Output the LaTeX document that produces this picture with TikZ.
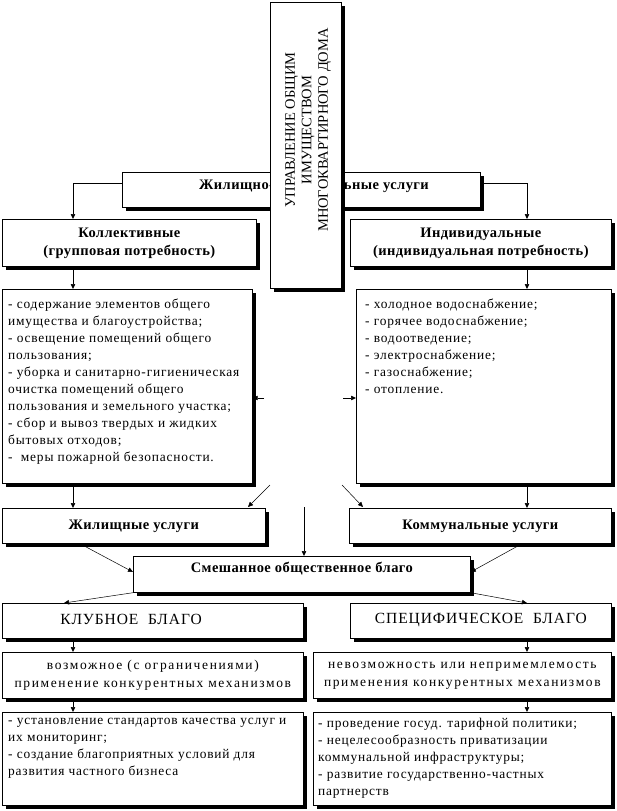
\documentclass[tikz,border=0pt]{standalone}
\usepackage{fontspec}
\setmainfont{Liberation Serif}
\newfontfamily\lsfont[LetterSpace=6]{Liberation Serif}
\newfontfamily\wdfont[LetterSpace=12]{Liberation Serif}
\newfontfamily\hdfont[LetterSpace=3]{Liberation Serif}
\usetikzlibrary{arrows.meta,shadows}
\begin{document}
\begin{tikzpicture}[x=1pt,y=-1pt,
  bx/.style={draw, fill=white, line width=0.7pt, inner sep=0pt, anchor=north west,
    drop shadow={shadow xshift=3.5pt,shadow yshift=-3.5pt,fill=black,opacity=1}},
  arr/.style={-{Triangle[length=5pt,width=4.5pt]}, line width=0.5pt},
  hd/.style={font=\hdfont\fontsize{14.5}{18}\selectfont\bfseries, align=center, inner sep=0pt},
  rg/.style={font=\wdfont\fontsize{13.5}{18}\selectfont, align=center, inner sep=0pt},
  captxt/.style={font=\lsfont\fontsize{15.5}{18}\selectfont, align=center, inner sep=0pt},
  lst/.style={font=\lsfont\fontsize{13.4}{17}\selectfont, align=left, anchor=north west, inner sep=0pt}
]
\useasboundingbox (0,0) rectangle (616,811);
% top
\node[bx, minimum width=358pt, minimum height=35pt] (zhk) at (122,172) {};
\node[hd] (zhkt) at (314,186.5) {Жилищно-коммунальные услуги};
\node[bx, minimum width=71pt, minimum height=286pt] (upr) at (270,2) {};
\node[rotate=90, align=center, inner sep=0pt, font=\fontsize{14.5}{16.5}\selectfont] (uprt) at (308,130) {УПРАВЛЕНИЕ ОБЩИМ\\ИМУЩЕСТВОМ\\МНОГОКВАРТИРНОГО ДОМА};
% level 2
\node[bx, minimum width=254pt, minimum height=47pt] (kol) at (2,219) {};
\node[hd] (kolt) at (kol.center) {Коллективные\\(групповая потребность)};
\node[bx, minimum width=261pt, minimum height=47pt] (ind) at (350,219) {};
\node[hd] (indt) at (ind.center) {Индивидуальные\\(индивидуальная потребность)};
% lists
\node[bx, minimum width=250pt, minimum height=194pt] (lstL) at (2,289) {};
\node[lst] (lstLt) at (8,299) {- содержание элементов общего\\имущества и благоустройства;\\- освещение помещений общего\\пользования;\\- уборка и санитарно-гигиеническая\\очистка помещений общего\\пользования и земельного участка;\\- сбор и вывоз твердых и жидких\\бытовых отходов;\\-\ \ меры пожарной безопасности.};
\node[bx, minimum width=255pt, minimum height=194pt] (lstR) at (356,289) {};
\node[lst] (lstRt) at (365,299) {- холодное водоснабжение;\\- горячее водоснабжение;\\- водоотведение;\\- электроснабжение;\\- газоснабжение;\\- отопление.};
% level 4
\node[bx, minimum width=263pt, minimum height=35pt] (zhu) at (2,508) {};
\node[hd] (zhut) at (zhu.center) {Жилищные услуги};
\node[bx, minimum width=262pt, minimum height=35pt] (komu) at (349,508) {};
\node[hd] (komut) at (komu.center) {Коммунальные услуги};
% mixed
\node[bx, minimum width=337pt, minimum height=36pt] (smesh) at (133,556) {};
\node[hd] (smesht) at ([yshift=6pt]smesh.center) {Смешанное общественное благо};
% goods
\node[bx, minimum width=301pt, minimum height=35pt] (klub) at (2,603) {};
\node[captxt] (klubt) at (131,619) {КЛУБНОЕ\ \ БЛАГО};
\node[bx, minimum width=261pt, minimum height=35pt] (spec) at (350,603) {};
\node[captxt] (spect) at ([yshift=1pt]spec.center) {СПЕЦИФИЧЕСКОЕ\ \ БЛАГО};
\node[bx, minimum width=301pt, minimum height=46pt] (voz) at (2,652) {};
\node[rg] (vozt) at (voz.center) {возможное (с ограничениями)\\применение конкурентных механизмов};
\node[bx, minimum width=298pt, minimum height=46pt] (nevoz) at (313,652) {};
\node[rg] (nevozt) at (nevoz.center) {невозможность или непримемлемость\\применения конкурентных механизмов};
\node[bx, minimum width=301pt, minimum height=93pt] (bL) at (2,712) {};
\node[lst] (bLt) at (8,718) {- установление стандартов качества услуг и\\их мониторинг;\\- создание благоприятных условий для\\развития частного бизнеса};
\node[bx, minimum width=298pt, minimum height=93pt] (bR) at (313,712) {};
\node[lst] (bRt) at (318,718) {- проведение госуд. тарифной политики;\\- нецелесообразность приватизации\\коммунальной инфраструктуры;\\- развитие государственно-частных\\партнерств};
% connectors
\draw[arr] (zhk.west |- 0,183) -- (73,183) -- (kol.north -| 73,0);
\draw[arr] (zhk.east |- 0,183) -- (527,183) -- (ind.north -| 527,0);
\draw[arr] (kol.south -| 73,0) -- (lstL.north -| 73,0);
\draw[arr] (ind.south -| 527,0) -- (lstR.north -| 527,0);
\coordinate (sl) at (264,398);
\coordinate (sr) at (343,398);
\draw[arr] (sl) -- (lstL.east |- sl);
\draw[arr] (sr) -- (lstR.west |- sr);
\draw[arr] (lstL.south -| 73,0) -- (zhu.north -| 73,0);
\draw[arr] (lstR.south -| 527,0) -- (komu.north -| 527,0);
\coordinate (dl) at (270,485);
\coordinate (dr) at (342,485);
\coordinate (dm) at (304,507);
\draw[arr] (dl) -- (248,507);
\draw[arr] (dr) -- (363,507);
\draw[arr] (dm) -- (smesh.north -| dm);
\draw[arr] (zhu.south -| 80,0) -- (smesh.west |- 0,572);
\draw[arr] (komu.south -| 522,0) -- (smesh.east |- 0,572);
\draw[arr] (smesh.south west) -- (klub.north -| 64,0);
\draw[arr] (smesh.south east) -- (spec.north -| 527,0);
\draw[arr] (klub.south -| 73,0) -- (voz.north -| 73,0);
\draw[arr] (spec.south -| 527,0) -- (nevoz.north -| 527,0);
\draw[arr] (voz.south -| 73,0) -- (bL.north -| 73,0);
\draw[arr] (nevoz.south -| 527,0) -- (bR.north -| 527,0);
\end{tikzpicture}
\end{document}
